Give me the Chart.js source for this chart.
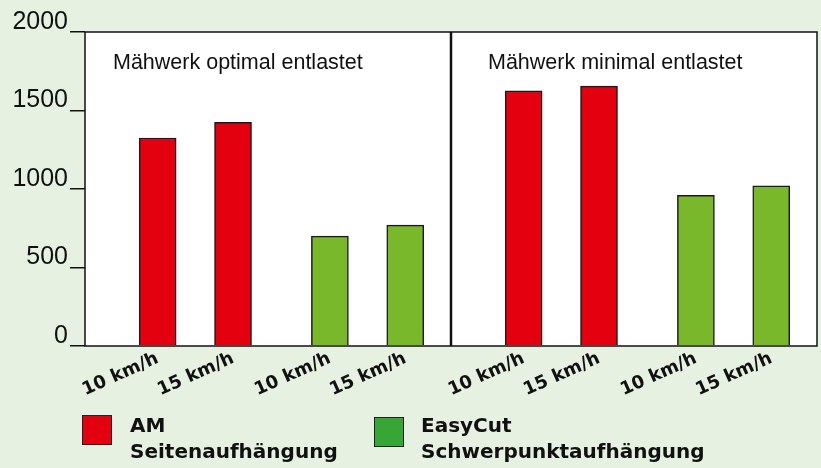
<!DOCTYPE html>
<html>
<head>
<meta charset="utf-8">
<script src="https://cdn.jsdelivr.net/npm/chart.js@4.4.1/dist/chart.umd.min.js"></script>
<style>
  body { margin: 0; background: #e7f1e1; }
  #wrap { position: relative; width: 821px; height: 468px; }
  .key { position: absolute; width: 28px; height: 28px; border: 1.5px solid #222; }
  .keytext { position: absolute; font: bold 20px "DejaVu Sans"; line-height: 26px; color: #111; white-space: nowrap; }
</style>
</head>
<body>
<div id="wrap">
  <canvas id="myChart" width="821" height="468"></canvas>
  <div id="legend"></div>
</div>
<script>
// data
var panels = ['Mähwerk optimal entlastet', 'Mähwerk minimal entlastet'];
var speeds = ['10 km/h', '15 km/h'];
var amValues = [1325, 1425, 1625, 1655];      // AM Seitenaufhängung, per panel 10 / 15 km/h
var easyCutValues = [700, 770, 960, 1020];    // EasyCut Schwerpunktaufhängung
var yTicks = [0, 500, 1000, 1500, 2000];
var seriesNames = [['AM', 'Seitenaufhängung'], ['EasyCut', 'Schwerpunktaufhängung']];

var red = '#e3000f';
var barGreen = '#78b82a';
var keyGreen = '#37a636';

// each panel is cut into narrow slots, bars sit in some of them
var slotsPerPanel = 68;
var amSlots = [13, 27];
var easyCutSlots = [45, 59];

var labels = [];
var amData = [];
var easyCutData = [];
for (var i = 0; i < slotsPerPanel * panels.length; i++) {
	labels.push('');
	amData.push(null);
	easyCutData.push(null);
}
for (var p = 0; p < panels.length; p++) {
	for (var k = 0; k < speeds.length; k++) {
		var a = p * slotsPerPanel + amSlots[k];
		var e = p * slotsPerPanel + easyCutSlots[k];
		labels[a] = speeds[k];
		labels[e] = speeds[k];
		amData[a] = amValues[p * 2 + k];
		easyCutData[e] = easyCutValues[p * 2 + k];
	}
}

var panelPlugin = {
	id: 'panels',
	beforeDatasetsDraw: function(chart) {
		var ca = chart.chartArea, ctx = chart.ctx;
		ctx.save();
		ctx.fillStyle = '#ffffff';
		ctx.fillRect(ca.left, ca.top, ca.right - ca.left, ca.bottom - ca.top);
		ctx.restore();
	},
	afterDatasetsDraw: function(chart) {
		var ca = chart.chartArea, ctx = chart.ctx, x = chart.scales.x;
		var mid = (x.getPixelForValue(slotsPerPanel - 1) + x.getPixelForValue(slotsPerPanel)) / 2;
		ctx.save();
		ctx.strokeStyle = '#111';
		ctx.lineWidth = 1.5;
		ctx.strokeRect(ca.left, ca.top, ca.right - ca.left, ca.bottom - ca.top);
		ctx.lineWidth = 2.5;
		ctx.beginPath();
		ctx.moveTo(mid, ca.top);
		ctx.lineTo(mid, ca.bottom);
		ctx.stroke();
		ctx.fillStyle = '#111';
		ctx.font = '21.5px "Liberation Sans", Arial';
		ctx.textBaseline = 'alphabetic';
		var lefts = [ca.left, mid];
		var shift = [28, 37];
		for (var p = 0; p < panels.length; p++) {
			ctx.fillText(panels[p], lefts[p] + shift[p], ca.top + 37);
		}
		ctx.restore();
	}
};

var ctx = document.getElementById('myChart').getContext('2d');
var myChart = new Chart(ctx, {
	type: 'bar',
	data: {
		labels: labels,
		datasets: [{
			label: seriesNames[0].join(' '),
			data: amData,
			backgroundColor: red,
			borderColor: '#1a1a1a',
			borderWidth: 1.5,
			barThickness: 37,
			grouped: false
		}, {
			label: seriesNames[1].join(' '),
			data: easyCutData,
			backgroundColor: barGreen,
			borderColor: '#1a1a1a',
			borderWidth: 1.5,
			barThickness: 37,
			grouped: false
		}]
	},
	options: {
		responsive: false,
		animation: false,
		devicePixelRatio: 1,
		layout: { padding: { top: 32, right: 4, left: 0, bottom: 0 } },
		plugins: {
			legend: { display: false },
			tooltip: { enabled: false }
		},
		scales: {
			x: {
				grid: { display: false, drawTicks: false },
				border: { display: false },
				ticks: {
					autoSkip: false,
					maxRotation: 24,
					minRotation: 24,
					padding: 2,
					color: '#111',
					font: { family: 'DejaVu Sans', weight: 'bold', size: 18 }
				},
				afterFit: function(scale) {
					scale.height = 122;
					scale.paddingLeft = 0;
					scale.paddingRight = 0;
				}
			},
			y: {
				min: 0,
				max: 2000,
				afterBuildTicks: function(scale) {
					scale.ticks = yTicks.map(function(v) { return { value: v }; });
				},
				grid: { drawOnChartArea: false, drawTicks: true, tickLength: 15, color: '#111', lineWidth: 1.5 },
				border: { display: false },
				ticks: {
					padding: 2,
					labelOffset: -10,
					color: '#111',
					font: { family: 'Liberation Sans', size: 25 },
					callback: function(v) { return String(v); }
				},
				afterFit: function(scale) { scale.width = 85; }
			}
		}
	},
	plugins: [panelPlugin]
});

// legend below the chart
var legend = document.getElementById('legend');
var keyColors = [red, keyGreen];
var keyLefts = [82, 374];
var keyTops = [415, 417];
var textLefts = [130, 421];
for (var s = 0; s < seriesNames.length; s++) {
	var box = document.createElement('div');
	box.className = 'key';
	box.style.left = keyLefts[s] + 'px';
	box.style.top = keyTops[s] + 'px';
	box.style.background = keyColors[s];
	legend.appendChild(box);
	var txt = document.createElement('div');
	txt.className = 'keytext';
	txt.style.left = textLefts[s] + 'px';
	txt.style.top = '412px';
	txt.innerHTML = seriesNames[s][0] + '<br>' + seriesNames[s][1];
	legend.appendChild(txt);
}
</script>
</body>
</html>
